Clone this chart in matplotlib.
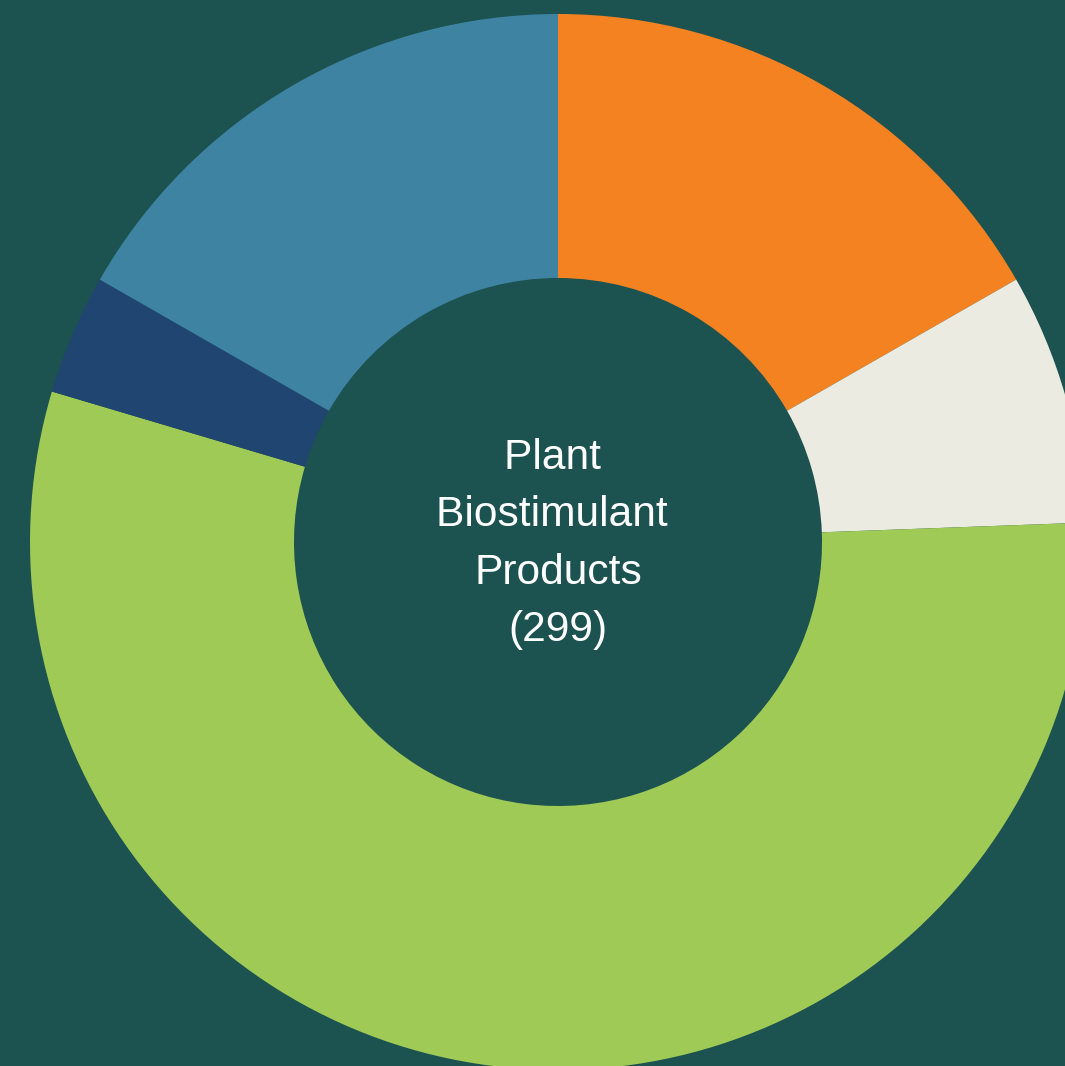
import matplotlib.pyplot as plt

# segment counts (clockwise from 12 o'clock), total 299
labels = ["Orange", "Cream", "Green", "Navy", "Blue"]
counts = [50, 23, 165, 11, 50]
colors = ["#f58220", "#ecebe1", "#9fca56", "#204570", "#3e83a1"]
center_text = "Plant \nBiostimulant \nProducts\n(299)"

bg = "#1c5250"

fig = plt.figure(figsize=(10.65, 10.66), dpi=100, facecolor=bg)
ax = fig.add_axes([0, 0, 1, 1])
ax.set_facecolor(bg)

# pixel-like coordinates so the ring can run off the canvas
cx, cy = 558, 1066 - 542
r_out, r_in = 528, 264

ax.pie(counts, colors=colors, startangle=90, counterclock=False,
       center=(cx, cy), radius=r_out, frame=True,
       wedgeprops=dict(width=r_out - r_in, linewidth=0))

ax.text(cx, cy - 2, center_text, ha="center", va="center",
        multialignment="center", color="white", fontsize=30.6,
        family="Liberation Sans", linespacing=1.56)

ax.set_xlim(0, 1065)
ax.set_ylim(0, 1066)
ax.set_aspect("equal")
ax.axis("off")

fig.savefig("out.png", dpi=100, facecolor=bg)
